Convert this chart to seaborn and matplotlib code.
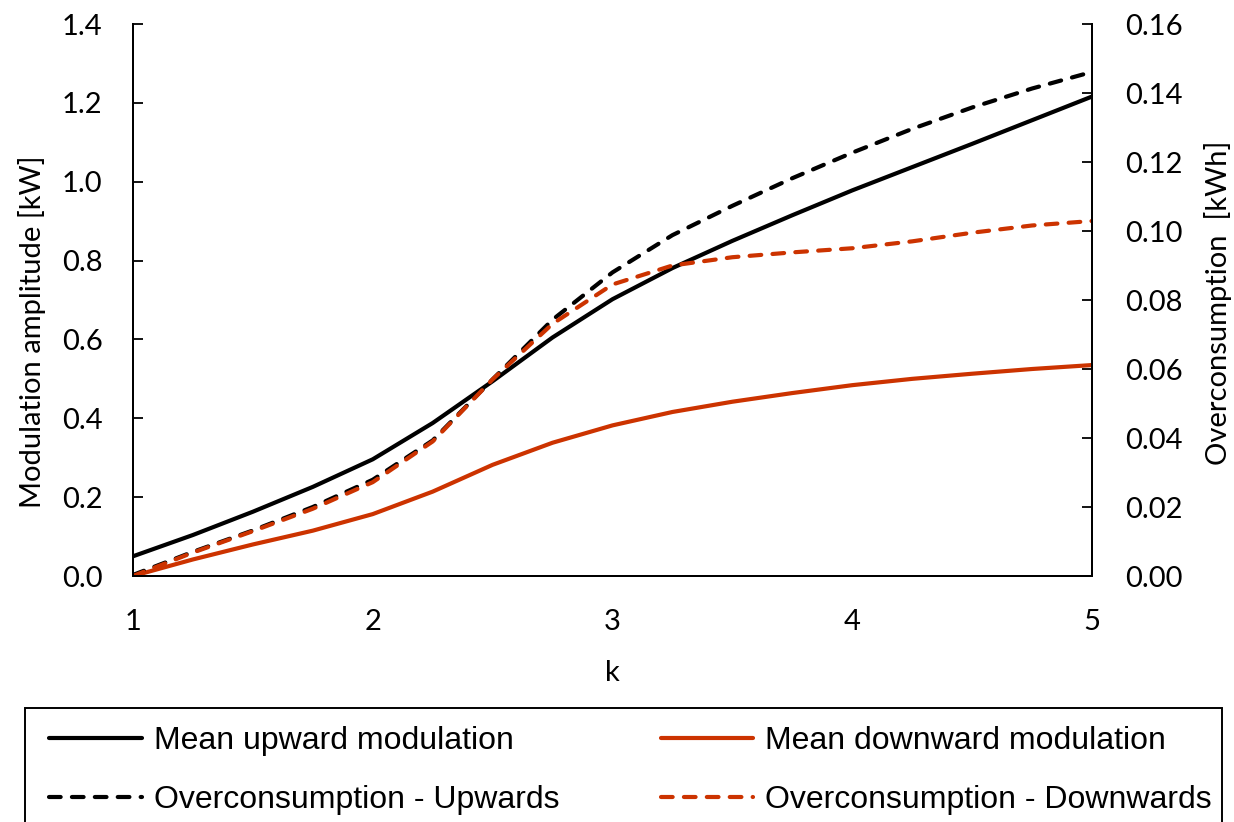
import numpy as np
import pandas as pd
import seaborn as sns
import matplotlib.pyplot as plt
from matplotlib.patches import Rectangle

k = [1.0, 1.25, 1.5, 1.75, 2.0, 2.25, 2.5, 2.75, 3.0, 3.25, 3.5, 3.75, 4.0, 4.25, 4.5, 4.75, 5.0]
mean_up = [0.050, 0.104, 0.163, 0.226, 0.296, 0.388, 0.494, 0.605, 0.702, 0.781, 0.850, 0.915,
           0.978, 1.037, 1.096, 1.156, 1.216]
mean_down = [0.0, 0.042, 0.080, 0.115, 0.157, 0.214, 0.282, 0.338, 0.382, 0.416, 0.442, 0.464,
             0.484, 0.500, 0.513, 0.525, 0.535]
over_up = [0.0003, 0.0070, 0.0132, 0.0200, 0.0279, 0.0393, 0.0570, 0.0743, 0.0880, 0.0988,
           0.1073, 0.1153, 0.1227, 0.1296, 0.1358, 0.1413, 0.1461]
over_down = [0.0, 0.0068, 0.0130, 0.0195, 0.0272, 0.0390, 0.0570, 0.0731, 0.0845, 0.0900,
             0.0924, 0.0938, 0.0950, 0.0970, 0.0995, 0.1016, 0.1029]

left_ticks = [0.0, 0.2, 0.4, 0.6, 0.8, 1.0, 1.2, 1.4]
right_ticks = [0.0, 0.02, 0.04, 0.06, 0.08, 0.10, 0.12, 0.14, 0.16]
x_ticks = [1, 2, 3, 4, 5]
labels = ['Mean upward modulation', 'Mean downward modulation',
          'Overconsumption - Upwards', 'Overconsumption - Downwards']

df = pd.DataFrame({'k': k, 'up': mean_up, 'down': mean_down,
                   'over_up': over_up, 'over_down': over_down})

sns.set_style('white')
plt.rcParams['font.family'] = ['Lato', 'DejaVu Sans']
plt.rcParams['text.color'] = 'black'
plt.rcParams['axes.labelcolor'] = 'black'
plt.rcParams['xtick.color'] = 'black'
plt.rcParams['ytick.color'] = 'black'
red = '#CC3300'
fs = 21

fig = plt.figure(figsize=(12.34, 8.22), dpi=100)
ax = fig.add_axes([133/1234, 1 - 576/822, (1092-133)/1234, (576-24)/822])
ax2 = ax.twinx()

lw = 3.0
sns.lineplot(data=df, x='k', y='up', ax=ax, color='black', lw=lw, legend=False)
sns.lineplot(data=df, x='k', y='down', ax=ax, color=red, lw=lw, legend=False)
sns.lineplot(data=df, x='k', y='over_up', ax=ax2, color='black', lw=lw, legend=False)
sns.lineplot(data=df, x='k', y='over_down', ax=ax2, color=red, lw=lw, legend=False)
l1, l2 = ax.get_lines()[:2]
l3, l4 = ax2.get_lines()[:2]
for ln in (l3, l4):
    ln.set_dashes((2.8, 2.7))
    ln.set_dash_capstyle('round')

ax.set_xlim(1, 5)
ax.set_ylim(0, 1.4)
ax2.set_ylim(0, 0.16)
ax.set_xticks(x_ticks)
ax.set_yticks(left_ticks)
ax2.set_yticks(right_ticks)
ax.set_yticklabels([f'{v:.1f}' for v in left_ticks])
ax2.set_yticklabels([f'{v:.2f}' for v in right_ticks])

ax.set_xlabel('k', fontsize=fs, va='center')
ax.set_ylabel('Modulation amplitude [kW]', fontsize=fs, va='center')
ax2.set_ylabel('Overconsumption  [kWh]', fontsize=fs, va='center')
ax.xaxis.set_label_coords(0.5, (576-673)/552)
ax.yaxis.set_label_coords((32-133)/959, (576-332)/552)
ax2.yaxis.set_label_coords((1218-133)/959, (576-303)/552)

for a in (ax, ax2):
    for s in a.spines.values():
        s.set_linewidth(1.4)
        s.set_color('black')
    a.spines['top'].set_visible(False)
    a.grid(False)
ax.tick_params(axis='x', direction='in', length=7, width=1.3, labelsize=fs, pad=24)
ax.tick_params(axis='y', direction='in', length=7, width=1.3, labelsize=fs, pad=22, left=True)
ax2.tick_params(axis='y', direction='in', length=7, width=1.3, labelsize=fs, pad=24, right=True)

# legend: column-major order so rows read up/down, then overconsumption
leg = fig.legend([l1, l3, l2, l4], [labels[0], labels[2], labels[1], labels[3]],
                 loc='upper left', ncol=2, mode='expand',
                 bbox_to_anchor=(49/1234, 1 - 727/822, (1212-49)/1234, 0.001),
                 prop={'family': 'Liberation Sans', 'size': 23}, frameon=False,
                 handlelength=2.9, handletextpad=0.38, labelspacing=0.9,
                 borderpad=0, borderaxespad=0)
fig.add_artist(Rectangle((25/1234, -0.1), (1222-25)/1234, 0.1 + 1 - 708/822,
                         transform=fig.transFigure, fill=False, ec='black', lw=1.4, clip_on=False))

fig.savefig('out.png', dpi=100)
